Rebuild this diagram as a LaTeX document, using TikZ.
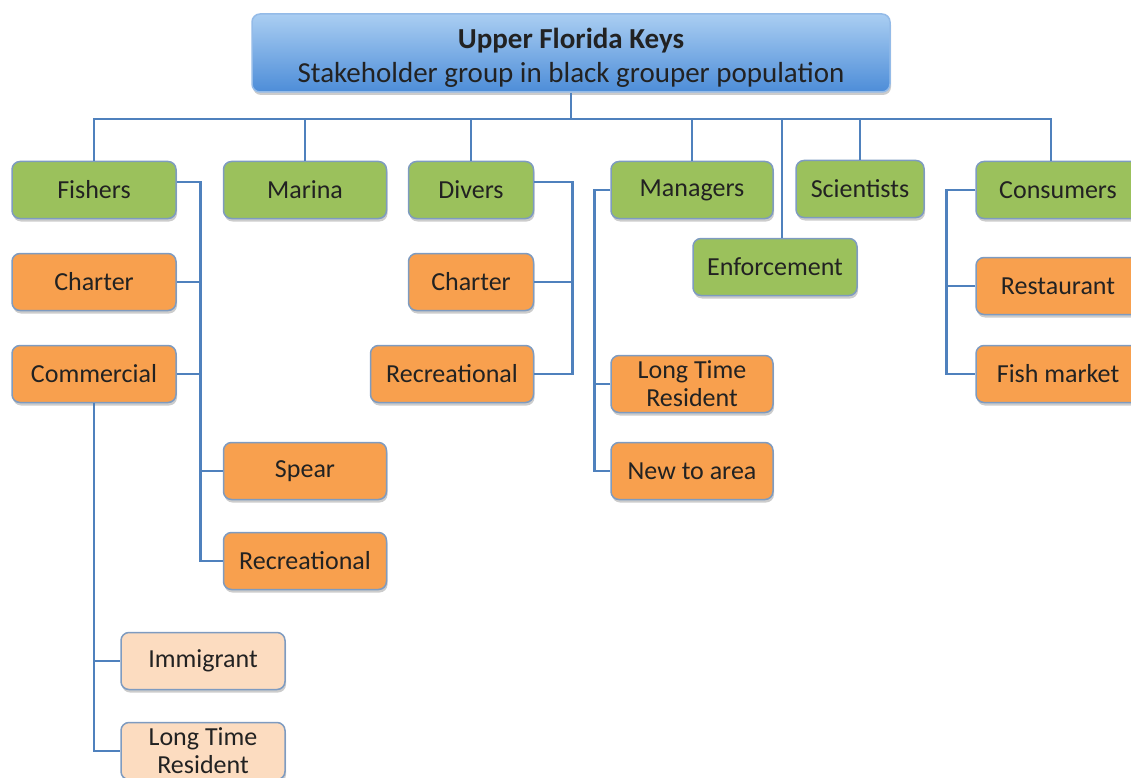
\documentclass[tikz,border=0pt]{standalone}
\usepackage{fontspec}
\setmainfont{Carlito}
\usetikzlibrary{shadows}

\definecolor{linkblue}{HTML}{4F81BD}
\definecolor{boxedge}{HTML}{7E9BC0}
\definecolor{grpgreen}{HTML}{9BC15C}
\definecolor{grporange}{HTML}{F8A04E}
\definecolor{grppeach}{HTML}{FCDCC0}
\definecolor{txt}{HTML}{222222}
\definecolor{topfrom}{HTML}{AACEF2}
\definecolor{topto}{HTML}{4D8DD8}

\tikzset{
  box/.style={draw=boxedge, line width=1.5pt, rounded corners=8pt, inner sep=0pt,
    minimum height=57pt, text=txt, align=center,
    font=\fontsize{26}{28}\selectfont,
    drop shadow={shadow xshift=1pt, shadow yshift=-3pt, opacity=0.2, fill=black}},
  lvlone/.style={box, fill=grpgreen},
  lvltwo/.style={box, fill=grporange},
  lvlthree/.style={box, fill=grppeach},
  link/.style={draw=linkblue, line width=2.8pt},
}

\begin{document}
\begin{tikzpicture}[x=1pt, y=-1pt]
      \useasboundingbox (0,0) rectangle (1131,778);
      % top of the tree
      \node[box, draw=topto!60!white, top color=topfrom, bottom color=topto,
        minimum width=638pt, minimum height=78pt, text height=63pt,
        font=\fontsize{29}{34}\selectfont] (top) at (571,53)
        {\textbf{Upper Florida Keys}\\Stakeholder group in black grouper population};
      \coordinate (bus) at (571,119);
      % groups
      \node[lvlone, minimum width=164pt] (fish) at (94,190) {Fishers};
      \node[lvlone, minimum width=163pt] (marina) at (305,190) {Marina};
      \node[lvlone, minimum width=125pt] (divers) at (471,190) {Divers};
      \node[lvlone, minimum width=162pt] (mgr) at (692,190) {Managers};
      \node[lvlone, minimum width=128pt] (sci) at (860,189) {Scientists};
      \node[lvlone, minimum width=164pt] (cons) at (1058,190) {Consumers};
      \node[lvlone, minimum width=164pt] (enf) at (775,267) {Enforcement};
      % fishers
      \node[lvltwo, minimum width=164pt] (fcharter) at (94,282) {Charter};
      \node[lvltwo, minimum width=164pt] (fcomm) at (94,374) {Commercial};
      \node[lvltwo, minimum width=163pt] (fspear) at (305,471) {Spear};
      \node[lvltwo, minimum width=163pt] (frec) at (305,561) {Recreational};
      \node[lvlthree, minimum width=164pt] (cimm) at (203,661) {Immigrant};
      \node[lvlthree, minimum width=164pt] (clong) at (203,751) {Long Time\\Resident};
      % divers
      \node[lvltwo, minimum width=125pt] (dcharter) at (471,282) {Charter};
      \node[lvltwo, minimum width=163pt] (drec) at (452,374) {Recreational};
      % managers
      \node[lvltwo, minimum width=162pt] (mlong) at (692,384) {Long Time\\Resident};
      \node[lvltwo, minimum width=162pt] (mnew) at (692,471) {New to area};
      % consumers
      \node[lvltwo, minimum width=164pt] (crest) at (1058,286) {Restaurant};
      \node[lvltwo, minimum width=164pt] (cmarket) at (1058,374) {Fish market};

      % connectors
      \draw[link] (top.south) -- (bus);
      \foreach \n in {fish,marina,divers,mgr,sci}
        \draw[link] (bus) -| (\n.north);
      \draw[link] (bus) -| ([xshift=7pt]enf.north);
      \draw[link] (bus) -| ([xshift=-7pt]cons.north);

      \draw[link] ([yshift=8pt]fish.east) -- ++(24,0) |- (frec.west);
      \draw[link] (fcharter.east) -- ++(24,0);
      \draw[link] (fcomm.east) -- ++(24,0);
      \draw[link] (fspear.west) -- ++(-23,0);
      \draw[link] (fcomm.south) |- (clong.west);
      \draw[link] (fcomm.south |- cimm.west) -- (cimm.west);

      \draw[link] ([yshift=8pt]divers.east) -- ++(38,0) |- (drec.east);
      \draw[link] (dcharter.east) -- ++(38,0);

      \draw[link] (mgr.west) -- ++(-16,0) |- (mnew.west);
      \draw[link] (mlong.west) -- ++(-16,0);

      \draw[link] (cons.west) -- ++(-29,0) |- (cmarket.west);
      \draw[link] (crest.west) -- ++(-29,0);
\end{tikzpicture}
\end{document}
